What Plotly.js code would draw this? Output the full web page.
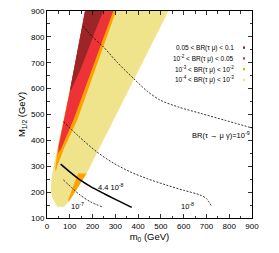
<!DOCTYPE html>
<html><head><meta charset="utf-8">
<script src="https://cdn.plot.ly/plotly-3.0.1.min.js"></script>
<style>html,body{margin:0;padding:0;background:#fff}</style>
</head><body><div id="plot" style="width:279px;height:253px"></div>
<script>
// Regions (m0, M1/2)
var yellowX = [303, 533, 174, 96, 75, 45, 22, 17, 20, 35, 50, 100, 167];
var yellowY = [900, 900, 272, 165, 143, 143, 180, 208, 253, 330, 375, 590, 900];
var orangeX = [167, 303, 133, 75, 45, 38, 36, 48, 100];
var orangeY = [900, 900, 479, 370, 300, 278, 290, 375, 590];
var orangePatchX = [137, 174, 96, 93, 118];
var orangePatchY = [272, 272, 163, 170, 230];
var redX = [167, 291, 116, 62, 48, 52, 100];
var redY = [900, 900, 479, 368, 350, 380, 590];
var darkRedX = [167, 247, 208, 152, 106, 100];
var darkRedY = [900, 900, 814, 685, 595, 590];
// BR(tau -> mu gamma) contours
var c9X = [157, 200, 247, 310, 379, 440, 496, 580, 672, 780, 900];
var c9Y = [842, 800, 762, 700, 640, 590, 556, 528, 505, 478, 448];
var c8X = [72, 140, 218, 290, 364, 440, 525, 600, 672, 700, 723];
var c8Y = [472, 415, 356, 313, 279, 252, 227, 207, 189, 175, 144];
var c7X = [72, 110, 145, 190, 247];
var c7Y = [247, 216, 189, 163, 141];
var c44X = [60, 100, 145, 190, 233, 300, 372];
var c44Y = [308, 278, 247, 222, 202, 172, 141];
var legendLabels = ["0.05 &lt; BR(τ μ) &lt; 0.1", "10<sup>-2</sup> &lt; BR(τ μ) &lt; 0.05", "10<sup>-3</sup> &lt; BR(τ μ) &lt; 10<sup>-2</sup>", "10<sup>-4</sup> &lt; BR(τ μ) &lt; 10<sup>-3</sup>"];
var colYellow = "#efe38c", colOrange = "#ffa200", colRed = "#ee3338", colDark = "#9c2527";
var legendColors = [colDark, colRed, colOrange, colYellow];

function poly(x, y, c) {
  return {x: x, y: y, type: "scatter", mode: "lines", fill: "toself", fillcolor: c,
          line: {width: 0, color: c}, hoverinfo: "skip", showlegend: false};
}
function curve(x, y, w, dash) {
  return {x: x, y: y, type: "scatter", mode: "lines", showlegend: false,
          line: {color: "#000", width: w, dash: dash, shape: "spline", smoothing: 0.8}};
}
var data = [
  poly(yellowX, yellowY, colYellow),
  poly(orangeX, orangeY, colOrange),
  poly(orangePatchX, orangePatchY, colOrange),
  poly(redX, redY, colRed),
  poly(darkRedX, darkRedY, colDark),
  curve(c9X, c9Y, 0.8, "2px,1.5px"),
  curve(c8X, c8Y, 0.8, "2px,1.5px"),
  curve(c7X, c7Y, 0.8, "2px,1.5px"),
  curve(c44X, c44Y, 1.6, "solid")
];
var F = "Liberation Sans, Arial, sans-serif";
var ann = [
  {x: 900, y: 421, text: "BR(τ → μ γ)=10<sup>-9</sup>", xanchor: "right"},
  {x: 281, y: 221, text: "4.4 10<sup>-8</sup>", xanchor: "center"},
  {x: 134, y: 147, text: "10<sup>-7</sup>", xanchor: "center"},
  {x: 617, y: 148, text: "10<sup>-8</sup>", xanchor: "center"}
].map(function (a) {
  return Object.assign({xref: "x", yref: "y", showarrow: false, yanchor: "middle", font: {family: F, size: 7.5, color: "#000"}}, a);
});
var shapes = [];
var rowY = [0.823, 0.771, 0.719, 0.667];
legendLabels.forEach(function (t, i) {
  ann.push({xref: "paper", yref: "paper", x: 0.922, y: rowY[i], text: t, showarrow: false,
            xanchor: "right", yanchor: "middle", font: {family: F, size: 6.5, color: "#000"}});
  shapes.push({type: "rect", xref: "paper", yref: "paper", x0: 0.956, x1: 0.966,
               y0: rowY[i] - 0.006, y1: rowY[i] + 0.006, fillcolor: legendColors[i], line: {width: 0}});
});
var axisCommon = {range: [0, 900], dtick: 100, ticks: "inside", ticklen: 4, tickwidth: 0.8, tickcolor: "#000",
  mirror: "allticks", showline: true, linecolor: "#000", linewidth: 1, showgrid: false, zeroline: false,
  tickfont: {family: F, size: 8, color: "#000"},
  minor: {dtick: 50, ticks: "inside", ticklen: 2.5, tickcolor: "#000", tickwidth: 0.8}};
var layout = {
  width: 279, height: 253, margin: {l: 47, r: 27, t: 11, b: 35},
  paper_bgcolor: "#fff", plot_bgcolor: "#fff", showlegend: false,
  xaxis: Object.assign({}, axisCommon, {title: {text: "m<sub>0</sub> (GeV)", font: {family: F, size: 9.5, color: "#000"}, standoff: 3}}),
  yaxis: Object.assign({}, axisCommon, {range: [100, 900], title: {text: "M<sub>1/2</sub> (GeV)", font: {family: F, size: 9.5, color: "#000"}, standoff: 3}}),
  annotations: ann, shapes: shapes
};
Plotly.newPlot("plot", data, layout, {staticPlot: true, displayModeBar: false});
</script></body></html>
